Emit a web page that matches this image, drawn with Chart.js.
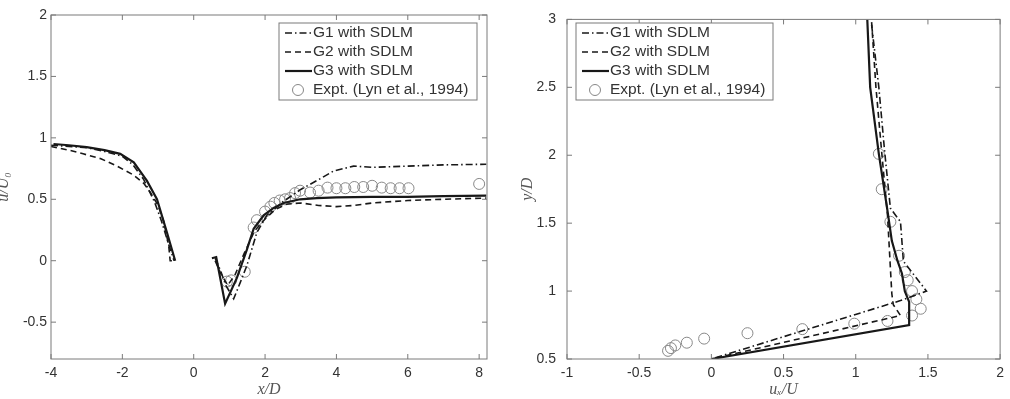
<!DOCTYPE html>
<html>
<head>
<meta charset="utf-8">
<script src="https://cdn.jsdelivr.net/npm/chart.js@4"></script>
<style>
  body { margin:0; background:#fff; width:1010px; height:399px; overflow:hidden; position:relative; }
  .panel { position:absolute; top:0; height:399px; }
  #p1 { left:-10px; width:515px; }
  #p2 { left:505px; width:505px; }
</style>
</head>
<body>
<div class="panel" id="p1"><canvas id="wakeChart"></canvas></div>
<div class="panel" id="p2"><canvas id="profileChart"></canvas></div>
<script>
// left panel: centreline velocity, x/D vs u/U0
const g1Up = [[-4,0.94],[-3.5,0.93],[-3,0.92],[-2.5,0.89],[-2,0.85],[-1.7,0.78],[-1.4,0.66],[-1.1,0.48],[-0.9,0.32],[-0.7,0.13],[-0.55,0]];
const g1Down = [[0.6,0.02],[0.75,-0.08],[0.9,-0.2],[1.12,-0.31],[1.3,-0.18],[1.49,-0.04],[1.77,0.23],[2.05,0.37],[2.5,0.48],[3,0.58],[3.5,0.66],[3.92,0.73],[4.48,0.77],[5,0.76],[6,0.77],[7,0.78],[8.2,0.785]];
const g2Up = [[-4,0.93],[-3.5,0.9],[-3.1,0.87],[-2.6,0.83],[-2.15,0.77],[-1.7,0.7],[-1.4,0.63],[-1.2,0.55],[-1,0.45],[-0.84,0.32],[-0.7,0.12],[-0.66,0],[-0.52,0]];
const g2Down = [[0.6,0],[0.75,-0.1],[0.95,-0.2],[1.15,-0.12],[1.4,0.05],[1.7,0.24],[2,0.34],[2.3,0.42],[2.6,0.46],[3,0.47],[3.5,0.45],[4,0.44],[4.5,0.45],[5,0.47],[6,0.49],[7,0.5],[8.2,0.51]];
const g3Up = [[-3.93,0.95],[-3.5,0.94],[-3,0.925],[-2.5,0.9],[-2.06,0.87],[-1.68,0.8],[-1.31,0.65],[-1.03,0.5],[-0.75,0.23],[-0.52,0]];
const g3Down = [[0.51,0.02],[0.63,0.03],[0.88,-0.35],[1.21,-0.14],[1.49,0.09],[1.68,0.26],[1.96,0.37],[2.24,0.43],[2.52,0.47],[2.98,0.5],[3.45,0.51],[4,0.515],[5,0.52],[6,0.52],[7,0.525],[8.2,0.53]];
const exptWake = [[0.93,-0.17],[1.05,-0.16],[1.43,-0.09],[1.68,0.27],[1.77,0.33],[2,0.4],[2.15,0.44],[2.26,0.47],[2.41,0.49],[2.56,0.5],[2.7,0.51],[2.84,0.55],[2.98,0.57],[3.26,0.555],[3.5,0.57],[3.75,0.595],[4,0.59],[4.25,0.59],[4.5,0.6],[4.75,0.6],[5,0.61],[5.27,0.595],[5.52,0.59],[5.77,0.59],[6.02,0.59],[8,0.625]];
const wakeXTicks = [-4,-2,0,2,4,6,8];
const wakeYTicks = [-0.5,0,0.5,1,1.5,2];

// right panel: velocity profile, u/U vs y/D
const g1Prof = [[1.11,2.96],[1.16,2.5],[1.2,2.03],[1.24,1.61],[1.31,1.51],[1.33,1.22],[1.49,1],[1.31,0.93],[0,0.5]];
const g2Prof = [[1.11,2.98],[1.14,2.5],[1.18,2.02],[1.22,1.56],[1.24,1.17],[1.25,0.98],[1.26,0.9],[1.31,0.82],[0,0.5]];
const g3Prof = [[1.08,3],[1.1,2.5],[1.16,2.01],[1.22,1.59],[1.25,1.37],[1.29,1.22],[1.32,1.13],[1.34,1],[1.37,0.92],[1.37,0.75],[0,0.5]];
const exptProf = [[1.16,2.01],[1.18,1.75],[1.24,1.51],[1.3,1.26],[1.34,1.14],[1.36,1.08],[1.39,1],[1.42,0.94],[1.45,0.87],[1.39,0.82],[1.22,0.78],[0.99,0.76],[0.63,0.72],[0.25,0.69],[-0.05,0.65],[-0.17,0.62],[-0.25,0.6],[-0.28,0.58],[-0.3,0.56]];
const profXTicks = [-1,-0.5,0,0.5,1,1.5,2];
const profYTicks = [0.5,1,1.5,2,2.5,3];

const labels = ['G1 with SDLM','G2 with SDLM','G3 with SDLM','Expt. (Lyn et al., 1994)'];

const ink = '#181818';
const dashDot = [7,3,1.5,3];
const dashed = [6,4];
const pts = arr => arr.map(p => ({x:p[0], y:p[1]}));

function line(data, dash, w) {
  return { data: pts(data), showLine:true, borderColor:ink, borderWidth:w, borderDash:dash, pointRadius:0, fill:false };
}
function circles(data) {
  return { data: pts(data), showLine:false, pointRadius:5.5, pointBorderColor:'#888', pointBackgroundColor:'rgba(0,0,0,0)', pointBorderWidth:1 };
}

function axis(min, max, ticks, title, tickPad, titlePad, size, horiz) {
  return {
    type:'linear', min:min, max:max,
    grid:{display:false, drawTicks:false}, border:{display:false},
    afterBuildTicks: s => { s.ticks = ticks.map(v => ({value:v})); },
    afterFit: s => { if (horiz) s.height = size; else s.width = size; },
    ticks:{ color:'#333', font:{family:'Liberation Sans, Arial', size:14}, padding:tickPad, autoSkip:false, maxRotation:0, callback: v => String(v) },
    title:{ display:true, text:title, color:'#555', font:{family:'Liberation Serif', style:'italic', size:16}, padding:titlePad }
  };
}

// box around the plot with inward ticks on all four sides
const frame = {
  id:'frame',
  afterDraw(chart) {
    const c = chart.ctx, a = chart.chartArea;
    c.save();
    c.strokeStyle = '#7a7a7a';
    c.lineWidth = 1;
    c.strokeRect(a.left, a.top, a.right - a.left, a.bottom - a.top);
    c.beginPath();
    chart.scales.x.ticks.forEach(t => {
      const px = chart.scales.x.getPixelForValue(t.value);
      c.moveTo(px, a.bottom); c.lineTo(px, a.bottom - 5);
      c.moveTo(px, a.top); c.lineTo(px, a.top + 5);
    });
    chart.scales.y.ticks.forEach(t => {
      const py = chart.scales.y.getPixelForValue(t.value);
      c.moveTo(a.left, py); c.lineTo(a.left + 5, py);
      c.moveTo(a.right, py); c.lineTo(a.right - 5, py);
    });
    c.stroke();
    c.restore();
  }
};

// legend drawn inside the plot like the original figure
const boxLegend = {
  id:'boxLegend',
  afterDraw(chart, args, o) {
    const c = chart.ctx;
    c.save();
    c.fillStyle = '#fff';
    c.fillRect(o.x, o.y, o.w, o.h);
    c.strokeStyle = '#7a7a7a';
    c.lineWidth = 1;
    c.strokeRect(o.x, o.y, o.w, o.h);
    const rows = [o.y + 10, o.y + 29, o.y + 48, o.y + 67];
    const styles = [[dashDot,1.6],[dashed,1.6],[[],2.2]];
    c.font = '15.5px "Liberation Sans", Arial';
    c.textBaseline = 'middle';
    c.fillStyle = '#333';
    labels.forEach((lab, i) => {
      const yy = rows[i];
      if (i < 3) {
        c.strokeStyle = ink;
        c.lineWidth = styles[i][1];
        c.setLineDash(styles[i][0]);
        c.beginPath(); c.moveTo(o.x + 6, yy); c.lineTo(o.x + 33, yy); c.stroke();
        c.setLineDash([]);
      } else {
        c.strokeStyle = '#888';
        c.lineWidth = 1;
        c.beginPath(); c.arc(o.x + 19, yy, 5.5, 0, Math.PI * 2); c.stroke();
      }
      c.fillText(lab, o.x + 34, yy);
    });
    c.restore();
  }
};

Chart.register(frame, boxLegend);

new Chart('wakeChart', {
  type:'scatter',
  data:{ datasets:[
    line(g1Up, dashDot, 1.6), line(g1Down, dashDot, 1.6),
    line(g2Up, dashed, 1.6), line(g2Down, dashed, 1.6),
    line(g3Up, [], 2.2), line(g3Down, [], 2.2),
    circles(exptWake)
  ]},
  options:{
    responsive:true, maintainAspectRatio:false, animation:false,
    layout:{ padding:{left:0, right:18, top:15, bottom:0} },
    scales:{
      x: axis(-4, 8.22, wakeXTicks, 'x/D', 6, {top:0, bottom:0}, 40, true),
      y: axis(-0.8, 2, wakeYTicks, 'u/U\u2080', 4, {top:4, bottom:0}, 61, false)
    },
    plugins:{ legend:{display:false}, tooltip:{enabled:false},
      boxLegend:{ x:289, y:23, w:198, h:77 } }
  }
});

new Chart('profileChart', {
  type:'scatter',
  data:{ datasets:[
    line(g1Prof, dashDot, 1.6),
    line(g2Prof, dashed, 1.6),
    line(g3Prof, [], 2.2),
    circles(exptProf)
  ]},
  options:{
    responsive:true, maintainAspectRatio:false, animation:false,
    layout:{ padding:{left:0, right:8, top:15, bottom:0} },
    scales:{
      x: axis(-1, 2, profXTicks, 'u\u2093/U', 6, {top:0, bottom:0}, 40, true),
      y: axis(0.5, 3, profYTicks, 'y/D', 11, {top:13, bottom:0}, 62, false)
    },
    plugins:{ legend:{display:false}, tooltip:{enabled:false},
      boxLegend:{ x:71, y:23, w:197, h:77 } }
  }
});
</script>
</body>
</html>
